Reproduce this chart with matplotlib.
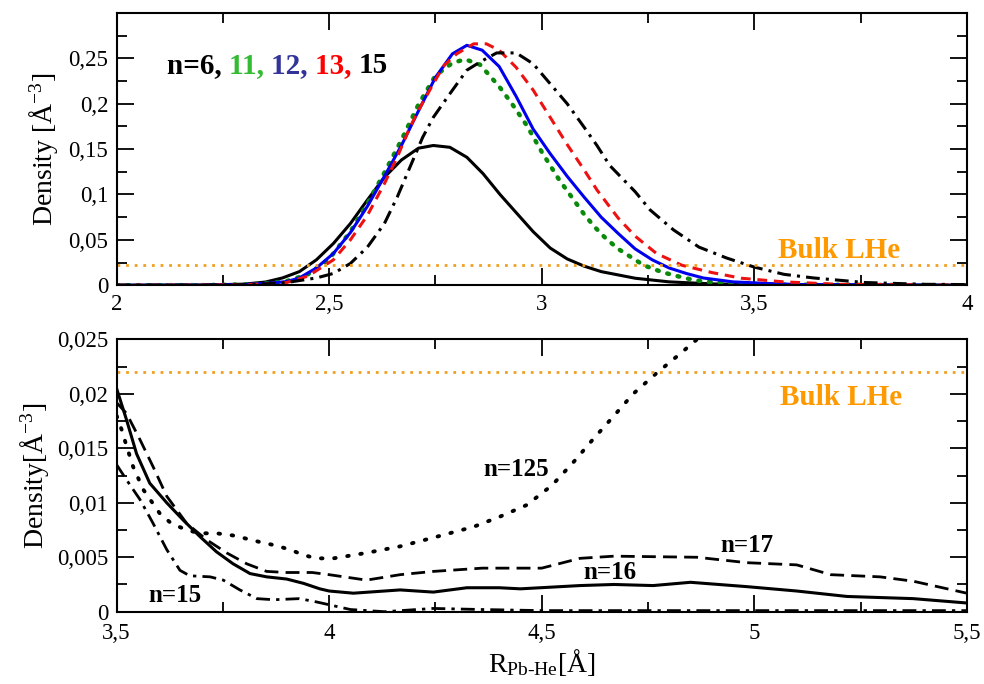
import numpy as np
import matplotlib
matplotlib.use('Agg')
import matplotlib.pyplot as plt
from matplotlib.ticker import MultipleLocator, FuncFormatter

plt.rcParams['font.family'] = ['Liberation Serif', 'DejaVu Serif']
plt.rcParams['mathtext.fontset'] = 'custom'
plt.rcParams['mathtext.rm'] = 'Liberation Serif'
plt.rcParams['mathtext.it'] = 'Liberation Serif:italic'
plt.rcParams['mathtext.bf'] = 'Liberation Serif:bold'

# ---- top panel: n = 6, 11, 12, 13, 15 ----
x6 = [2.0, 2.2, 2.3, 2.35, 2.39, 2.43, 2.47, 2.51, 2.55, 2.59, 2.63, 2.67, 2.71, 2.745,
      2.784, 2.824, 2.862, 2.902, 2.94, 2.98, 3.02, 3.06, 3.1, 3.14, 3.22, 3.3, 3.4, 3.5, 4.0]
y6 = [0, 0.0002, 0.0012, 0.0035, 0.008, 0.015, 0.028, 0.046, 0.068, 0.094, 0.119, 0.138,
      0.151, 0.154, 0.152, 0.141, 0.123, 0.1, 0.08, 0.059, 0.041, 0.029, 0.021, 0.015,
      0.0077, 0.0037, 0.0015, 0.0005, 0]

x11 = [2.0, 2.2, 2.3, 2.35, 2.4, 2.45, 2.5, 2.55, 2.59, 2.63, 2.67, 2.71, 2.75, 2.79, 2.82,
       2.855, 2.9, 2.93, 2.965, 3.0, 3.04, 3.06, 3.1, 3.125, 3.15, 3.18, 3.21, 3.24, 3.28,
       3.31, 3.35, 3.38, 3.45, 3.55, 4.0]
y11 = [0, 0.0001, 0.0008, 0.002, 0.0045, 0.012, 0.029, 0.059, 0.09, 0.124, 0.16, 0.199,
       0.231, 0.245, 0.249, 0.243, 0.219, 0.2, 0.176, 0.147, 0.117, 0.104, 0.078, 0.064,
       0.052, 0.04, 0.031, 0.022, 0.015, 0.011, 0.0066, 0.004, 0.002, 0.0006, 0]

x12 = [2.0, 2.2, 2.3, 2.35, 2.4, 2.43, 2.47, 2.51, 2.55, 2.59, 2.63, 2.67, 2.71, 2.75,
       2.79, 2.824, 2.86, 2.9, 2.94, 2.98, 3.02, 3.06, 3.1, 3.14, 3.18, 3.22, 3.26, 3.3,
       3.34, 3.38, 3.45, 3.53, 3.6, 4.0]
y12 = [0, 0.0001, 0.0008, 0.002, 0.004, 0.008, 0.019, 0.035, 0.058, 0.087, 0.12, 0.154,
       0.192, 0.229, 0.255, 0.2644, 0.259, 0.241, 0.208, 0.172, 0.145, 0.12, 0.097, 0.075,
       0.057, 0.04, 0.028, 0.019, 0.013, 0.008, 0.0037, 0.002, 0.0008, 0]

x13 = [2.0, 2.2, 2.3, 2.35, 2.4, 2.45, 2.51, 2.55, 2.59, 2.63, 2.66, 2.69, 2.714, 2.745,
       2.77, 2.8, 2.84, 2.87, 2.9, 2.94, 2.98, 3.02, 3.06, 3.1, 3.13, 3.18, 3.22, 3.27,
       3.33, 3.4, 3.47, 3.57, 3.7, 4.0]
y13 = [0, 0.0001, 0.0006, 0.0015, 0.003, 0.01, 0.028, 0.05, 0.077, 0.112, 0.141, 0.174,
       0.196, 0.222, 0.242, 0.255, 0.266, 0.266, 0.259, 0.24, 0.215, 0.185, 0.155, 0.127,
       0.105, 0.074, 0.054, 0.035, 0.022, 0.014, 0.0077, 0.0037, 0.001, 0.0002]

x15 = [2.0, 2.2, 2.3, 2.35, 2.4, 2.47, 2.51, 2.55, 2.59, 2.63, 2.66, 2.69, 2.72, 2.745,
       2.784, 2.824, 2.855, 2.894, 2.94, 2.98, 3.02, 3.06, 3.1, 3.13, 3.16, 3.22, 3.255,
       3.31, 3.37, 3.435, 3.5, 3.57, 3.64, 3.76, 3.9, 4.0]
y15 = [0, 0.0001, 0.0005, 0.0015, 0.003, 0.008, 0.013, 0.024, 0.042, 0.068, 0.097, 0.13,
       0.163, 0.185, 0.211, 0.237, 0.246, 0.256, 0.256, 0.244, 0.222, 0.2, 0.174, 0.154,
       0.132, 0.103, 0.083, 0.061, 0.042, 0.03, 0.02, 0.012, 0.008, 0.003, 0.001, 0.0007]

# ---- bottom panel: n = 15, 16, 17, 125 ----
b16_x = [3.5, 3.5235, 3.547, 3.578, 3.618, 3.657, 3.696, 3.735, 3.774, 3.814, 3.853, 3.9,
         3.94, 3.978, 4.0, 4.057, 4.167, 4.245, 4.324, 4.40, 4.45, 4.59, 4.67, 4.762, 4.85,
         4.983, 5.10, 5.218, 5.374, 5.5]
b16_y = [0.0205, 0.0176, 0.0145, 0.0118, 0.0100, 0.0084, 0.0069, 0.0055, 0.0044, 0.0035,
         0.0032, 0.0030, 0.0026, 0.0021, 0.0019, 0.0017, 0.0020, 0.0018, 0.0022, 0.0022,
         0.0021, 0.0024, 0.0025, 0.0024, 0.0027, 0.0023, 0.0019, 0.0014, 0.0012, 0.0008]

b17_x = [3.5, 3.5235, 3.555, 3.586, 3.618, 3.665, 3.712, 3.759, 3.806, 3.853, 3.9, 3.96,
         4.0, 4.088, 4.167, 4.245, 4.36, 4.5, 4.59, 4.67, 4.865, 4.983, 5.10, 5.18, 5.296,
         5.374, 5.5]
b17_y = [0.0192, 0.0182, 0.0158, 0.0133, 0.0106, 0.0081, 0.0066, 0.0054, 0.0044, 0.0037,
         0.0036, 0.0036, 0.0034, 0.0029, 0.0034, 0.0037, 0.0040, 0.0040, 0.0049, 0.0051,
         0.0050, 0.0045, 0.0043, 0.0034, 0.0032, 0.0028, 0.0017]

b125_x = [3.5, 3.512, 3.5235, 3.539, 3.563, 3.602, 3.629, 3.665, 3.696, 3.735, 3.774, 3.806,
          3.837, 3.872, 3.908, 3.94, 3.97, 4.01, 4.088, 4.167, 4.245, 4.34, 4.40, 4.465,
          4.524, 4.574, 4.62, 4.668, 4.715, 4.77, 4.826, 4.856, 4.88]
b125_y = [0.0180, 0.0167, 0.0152, 0.0133, 0.0112, 0.0090, 0.0081, 0.0075, 0.0072, 0.0072,
          0.0070, 0.0067, 0.0064, 0.0061, 0.0057, 0.0052, 0.0049, 0.0049, 0.0054, 0.0060,
          0.0068, 0.0078, 0.0087, 0.0098, 0.0116, 0.0137, 0.0158, 0.0179, 0.0200, 0.0219,
          0.0237, 0.0247, 0.0255]

b15_x = [3.5, 3.5235, 3.555, 3.586, 3.618, 3.649, 3.672, 3.72, 3.751, 3.79, 3.83, 3.87,
         3.93, 3.97, 4.05, 4.13, 4.245, 4.36, 4.5, 5.0, 5.5]
b15_y = [0.0135, 0.0121, 0.0103, 0.0081, 0.0057, 0.0038, 0.0033, 0.0032, 0.0029, 0.0020,
         0.0012, 0.0011, 0.0012, 0.0009, 0.0002, 0.0, 0.0003, 0.0002, 0.0001, 0.0001, 0.0001]

bulk_lhe = 0.022
orange = '#f0a020'


def comma(v, pos):
    return ('%g' % round(v, 4)).replace('.', ',')


def style_axis(ax):
    ax.tick_params(which='both', direction='in', top=True, right=True, labelsize=16.5)
    ax.tick_params(which='major', length=12, width=1.3, pad=6)
    ax.tick_params(which='minor', length=7, width=1.3)
    for s in ax.spines.values():
        s.set_linewidth(1.5)
    ax.xaxis.set_major_formatter(FuncFormatter(comma))
    ax.yaxis.set_major_formatter(FuncFormatter(comma))


fig = plt.figure(figsize=(9.84, 6.84), dpi=100)
ax1 = fig.add_axes([0.1185, 0.583, 0.864, 0.398])
ax2 = fig.add_axes([0.1185, 0.1057, 0.864, 0.398])

# top
ax1.plot(x6, y6, color='black', lw=2.2)
ax1.plot(x11, y11, color='#0a8a0a', lw=3.2, linestyle=(0, (0.4, 2.0)), dash_capstyle='round')
ax1.plot(x12, y12, color='#0000ee', lw=2.2)
ax1.plot(x13, y13, color='#ee1111', lw=2.2, linestyle=(0, (3.2, 2.2)))
ax1.plot(x15, y15, color='black', lw=2.2, linestyle=(0, (4.5, 2.0, 1.0, 2.0)))
ax1.axhline(bulk_lhe, color=orange, lw=2, linestyle=(0, (1, 2.1)))
ax1.set_xlim(2, 4)
ax1.set_ylim(0, 0.3)
ax1.xaxis.set_major_locator(MultipleLocator(0.5))
ax1.xaxis.set_minor_locator(MultipleLocator(0.25))
ax1.set_yticks([0, 0.05, 0.1, 0.15, 0.2, 0.25])
ax1.yaxis.set_minor_locator(MultipleLocator(0.025))
style_axis(ax1)
ax1.set_ylabel('Density [Å$^{-3}$]', fontsize=20)
ax1.yaxis.set_label_coords(-0.067, 0.5)
ax1.text(3.555, 0.0305, 'Bulk LHe', color='#ff9900', fontsize=21, fontweight='bold')

# multicoloured label
pieces = [('n=6, ', 'black'), ('11, ', '#33bb33'), ('12, ', '#333399'),
          ('13, ', '#ff0000'), ('15', 'black')]
prev = None
for s, c in pieces:
    if prev is None:
        prev = ax1.text(2.118, 0.2275, s, color=c, fontsize=21, fontweight='bold', va='bottom')
    else:
        prev = ax1.annotate(s, xycoords=prev, xy=(1, 0), va='bottom', color=c,
                            fontsize=21, fontweight='bold')

# bottom
ax2.plot(b16_x, b16_y, color='black', lw=2.2)
ax2.plot(b17_x, b17_y, color='black', lw=2, linestyle=(0, (5, 2.6)))
ax2.plot(b125_x, b125_y, color='black', lw=2.8, linestyle=(0, (0.4, 3.0)), dash_capstyle='round')
ax2.plot(b15_x, b15_y, color='black', lw=2, linestyle=(0, (5, 2.2, 1.2, 2.2)))
ax2.axhline(bulk_lhe, color=orange, lw=2, linestyle=(0, (1, 2.1)))
ax2.set_xlim(3.5, 5.5)
ax2.set_ylim(0, 0.025)
ax2.xaxis.set_major_locator(MultipleLocator(0.5))
ax2.xaxis.set_minor_locator(MultipleLocator(0.25))
ax2.yaxis.set_major_locator(MultipleLocator(0.005))
ax2.yaxis.set_minor_locator(MultipleLocator(0.0025))
style_axis(ax2)
ax2.tick_params(axis='x', which='major', pad=8)
ax2.set_ylabel('Density[Å$^{-3}$]', fontsize=20)
ax2.yaxis.set_label_coords(-0.077, 0.5)
ax2.set_xlabel(r'R$_{\mathrm{Pb\text{-}He}}$[Å]', fontsize=20, labelpad=2)

ax2.text(3.574, 0.0009, 'n=15', fontsize=18, fontweight='bold')
ax2.text(4.362, 0.0125, 'n=125', fontsize=18, fontweight='bold')
ax2.text(4.598, 0.003, 'n=16', fontsize=18, fontweight='bold')
ax2.text(4.92, 0.0055, 'n=17', fontsize=18, fontweight='bold')
ax2.text(5.06, 0.019, 'Bulk LHe', color='#ff9900', fontsize=21, fontweight='bold')

fig.savefig('out.png', dpi=100)
